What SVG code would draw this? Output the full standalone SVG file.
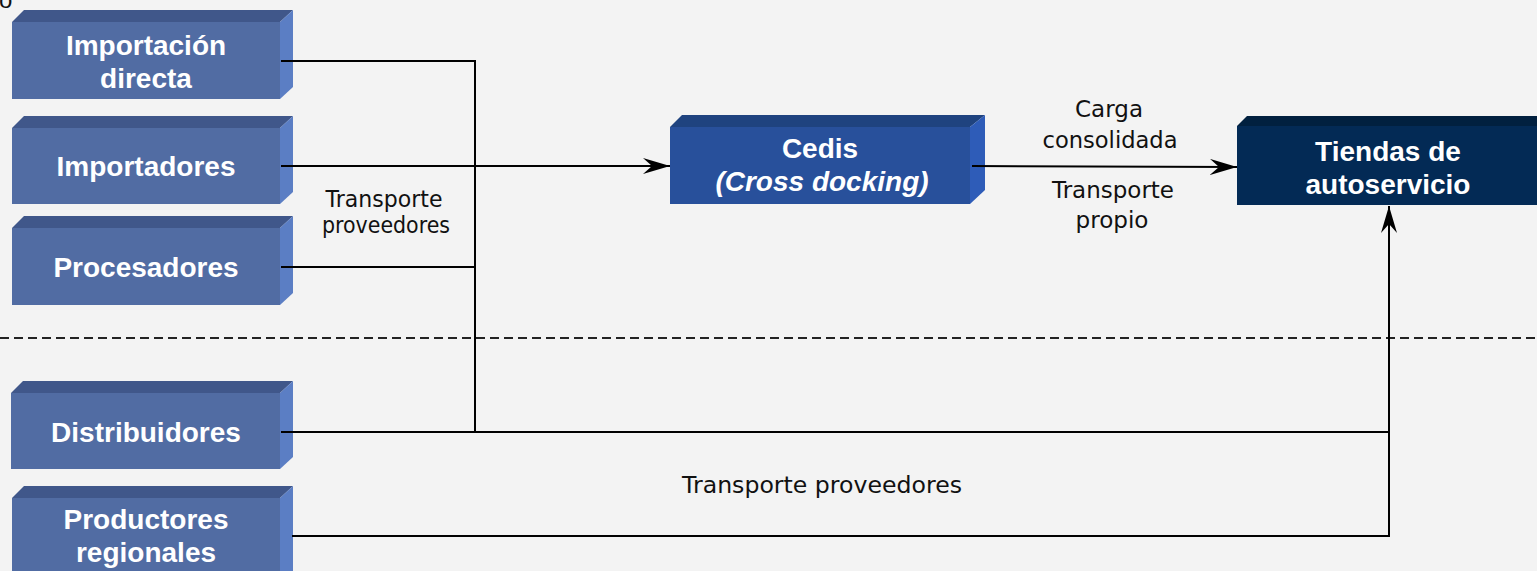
<svg xmlns="http://www.w3.org/2000/svg" width="1537" height="571" viewBox="0 0 1537 571">
  <style>
    .bg { fill: #f3f3f3; }
    .front { fill: #516ca3; }
    .top { fill: #40578a; }
    .side { fill: #5b7ec4; }
    .c-front { fill: #28509b; }
    .c-top { fill: #1f437f; }
    .c-side { fill: #2e5cb8; }
    .t-front { fill: #032a55; }
    .t-top { fill: #01203f; }
    .box-text { font-family: "Liberation Sans", Arial, sans-serif; font-weight: bold; font-size: 28px; fill: #ffffff; text-anchor: middle; }
    .label { font-family: "DejaVu Sans", Tahoma, sans-serif; font-size: 23px; fill: #111111; text-anchor: middle; }
    .link { fill: none; stroke: #000000; stroke-width: 2; }
    .divider { fill: none; stroke: #222222; stroke-width: 2; stroke-dasharray: 9 5; }
  </style>
  <defs>
    <marker id="arrow" markerUnits="userSpaceOnUse" markerWidth="28" markerHeight="18" refX="27" refY="8" orient="auto">
      <path d="M0,0 L27,8 L0,16 L9,8 Z" fill="#000000"/>
    </marker>
  </defs>

  <rect class="bg" x="0" y="0" width="1537" height="571"/>

  <!-- clipped title fragment at the top edge -->
  <text x="-1" y="8" font-family="Liberation Sans, Arial, sans-serif" font-size="24" fill="#111111">o</text>

  <!-- section divider -->
  <line class="divider" x1="0" y1="338" x2="1537" y2="338"/>

  <!-- supplier boxes -->
  <g id="importacion-directa">
    <polygon class="top" points="12,22 24,10 293,10 280,22"/>
    <polygon class="side" points="280,22 293,10 293,87 280,99"/>
    <rect class="front" x="12" y="22" width="268" height="77"/>
    <text class="box-text" x="146" y="55">Importación</text>
    <text class="box-text" x="146" y="88">directa</text>
  </g>

  <g id="importadores">
    <polygon class="top" points="12,128 24,116 293,116 280,128"/>
    <polygon class="side" points="280,128 293,116 293,192 280,204"/>
    <rect class="front" x="12" y="128" width="268" height="76"/>
    <text class="box-text" x="146" y="176">Importadores</text>
  </g>

  <g id="procesadores">
    <polygon class="top" points="12,228 24,216 293,216 280,228"/>
    <polygon class="side" points="280,228 293,216 293,293 280,305"/>
    <rect class="front" x="12" y="228" width="268" height="77"/>
    <text class="box-text" x="146" y="277">Procesadores</text>
  </g>

  <g id="distribuidores">
    <polygon class="top" points="11,393 23,381 293,381 280,393"/>
    <polygon class="side" points="280,393 293,381 293,457 280,469"/>
    <rect class="front" x="11" y="393" width="269" height="76"/>
    <text class="box-text" x="146" y="442">Distribuidores</text>
  </g>

  <g id="productores-regionales">
    <polygon class="top" points="12,498 24,486 293,486 280,498"/>
    <polygon class="side" points="280,498 293,486 293,571 280,571"/>
    <rect class="front" x="12" y="498" width="268" height="80"/>
    <text class="box-text" x="146" y="529">Productores</text>
    <text class="box-text" x="146" y="562">regionales</text>
  </g>

  <!-- distribution center -->
  <g id="cedis">
    <polygon class="c-top" points="670,127 682,115 985,115 970,127"/>
    <polygon class="c-side" points="970,127 985,115 985,190 970,204"/>
    <rect class="c-front" x="670" y="127" width="300" height="77"/>
    <text class="box-text" x="820" y="158">Cedis</text>
    <text class="box-text" x="822" y="191" font-style="italic">(Cross docking)</text>
  </g>

  <!-- retail stores -->
  <g id="tiendas-autoservicio">
    <polygon class="t-top" points="1237,126 1247,116 1537,116 1537,126"/>
    <rect class="t-front" x="1237" y="126" width="300" height="79"/>
    <text class="box-text" x="1388" y="161">Tiendas de</text>
    <text class="box-text" x="1388" y="194">autoservicio</text>
  </g>

  <!-- connectors, drawn over the box side faces -->
  <g id="connectors">
    <polyline class="link" points="281,61 475,61 475,432"/>
    <line class="link" x1="281" y1="267" x2="475" y2="267"/>
    <line class="link" x1="281" y1="166" x2="670" y2="166" marker-end="url(#arrow)"/>
    <line class="link" x1="972" y1="166" x2="1237" y2="167" marker-end="url(#arrow)"/>
    <line class="link" x1="281" y1="432" x2="1389" y2="432"/>
    <polyline class="link" points="292,536 1389,536 1389,206" marker-end="url(#arrow)"/>
  </g>

  <!-- connector labels -->
  <g id="labels">
    <text class="label" x="384" y="207" textLength="117" lengthAdjust="spacingAndGlyphs">Transporte</text>
    <text class="label" x="386" y="233" textLength="128" lengthAdjust="spacingAndGlyphs">proveedores</text>
    <text class="label" x="1109" y="117" textLength="68" lengthAdjust="spacingAndGlyphs">Carga</text>
    <text class="label" x="1110" y="148" textLength="135" lengthAdjust="spacingAndGlyphs">consolidada</text>
    <text class="label" x="1113" y="198" textLength="122" lengthAdjust="spacingAndGlyphs">Transporte</text>
    <text class="label" x="1112" y="228" textLength="73" lengthAdjust="spacingAndGlyphs">propio</text>
    <text class="label" x="822" y="493" textLength="280" lengthAdjust="spacingAndGlyphs">Transporte proveedores</text>
  </g>
</svg>
